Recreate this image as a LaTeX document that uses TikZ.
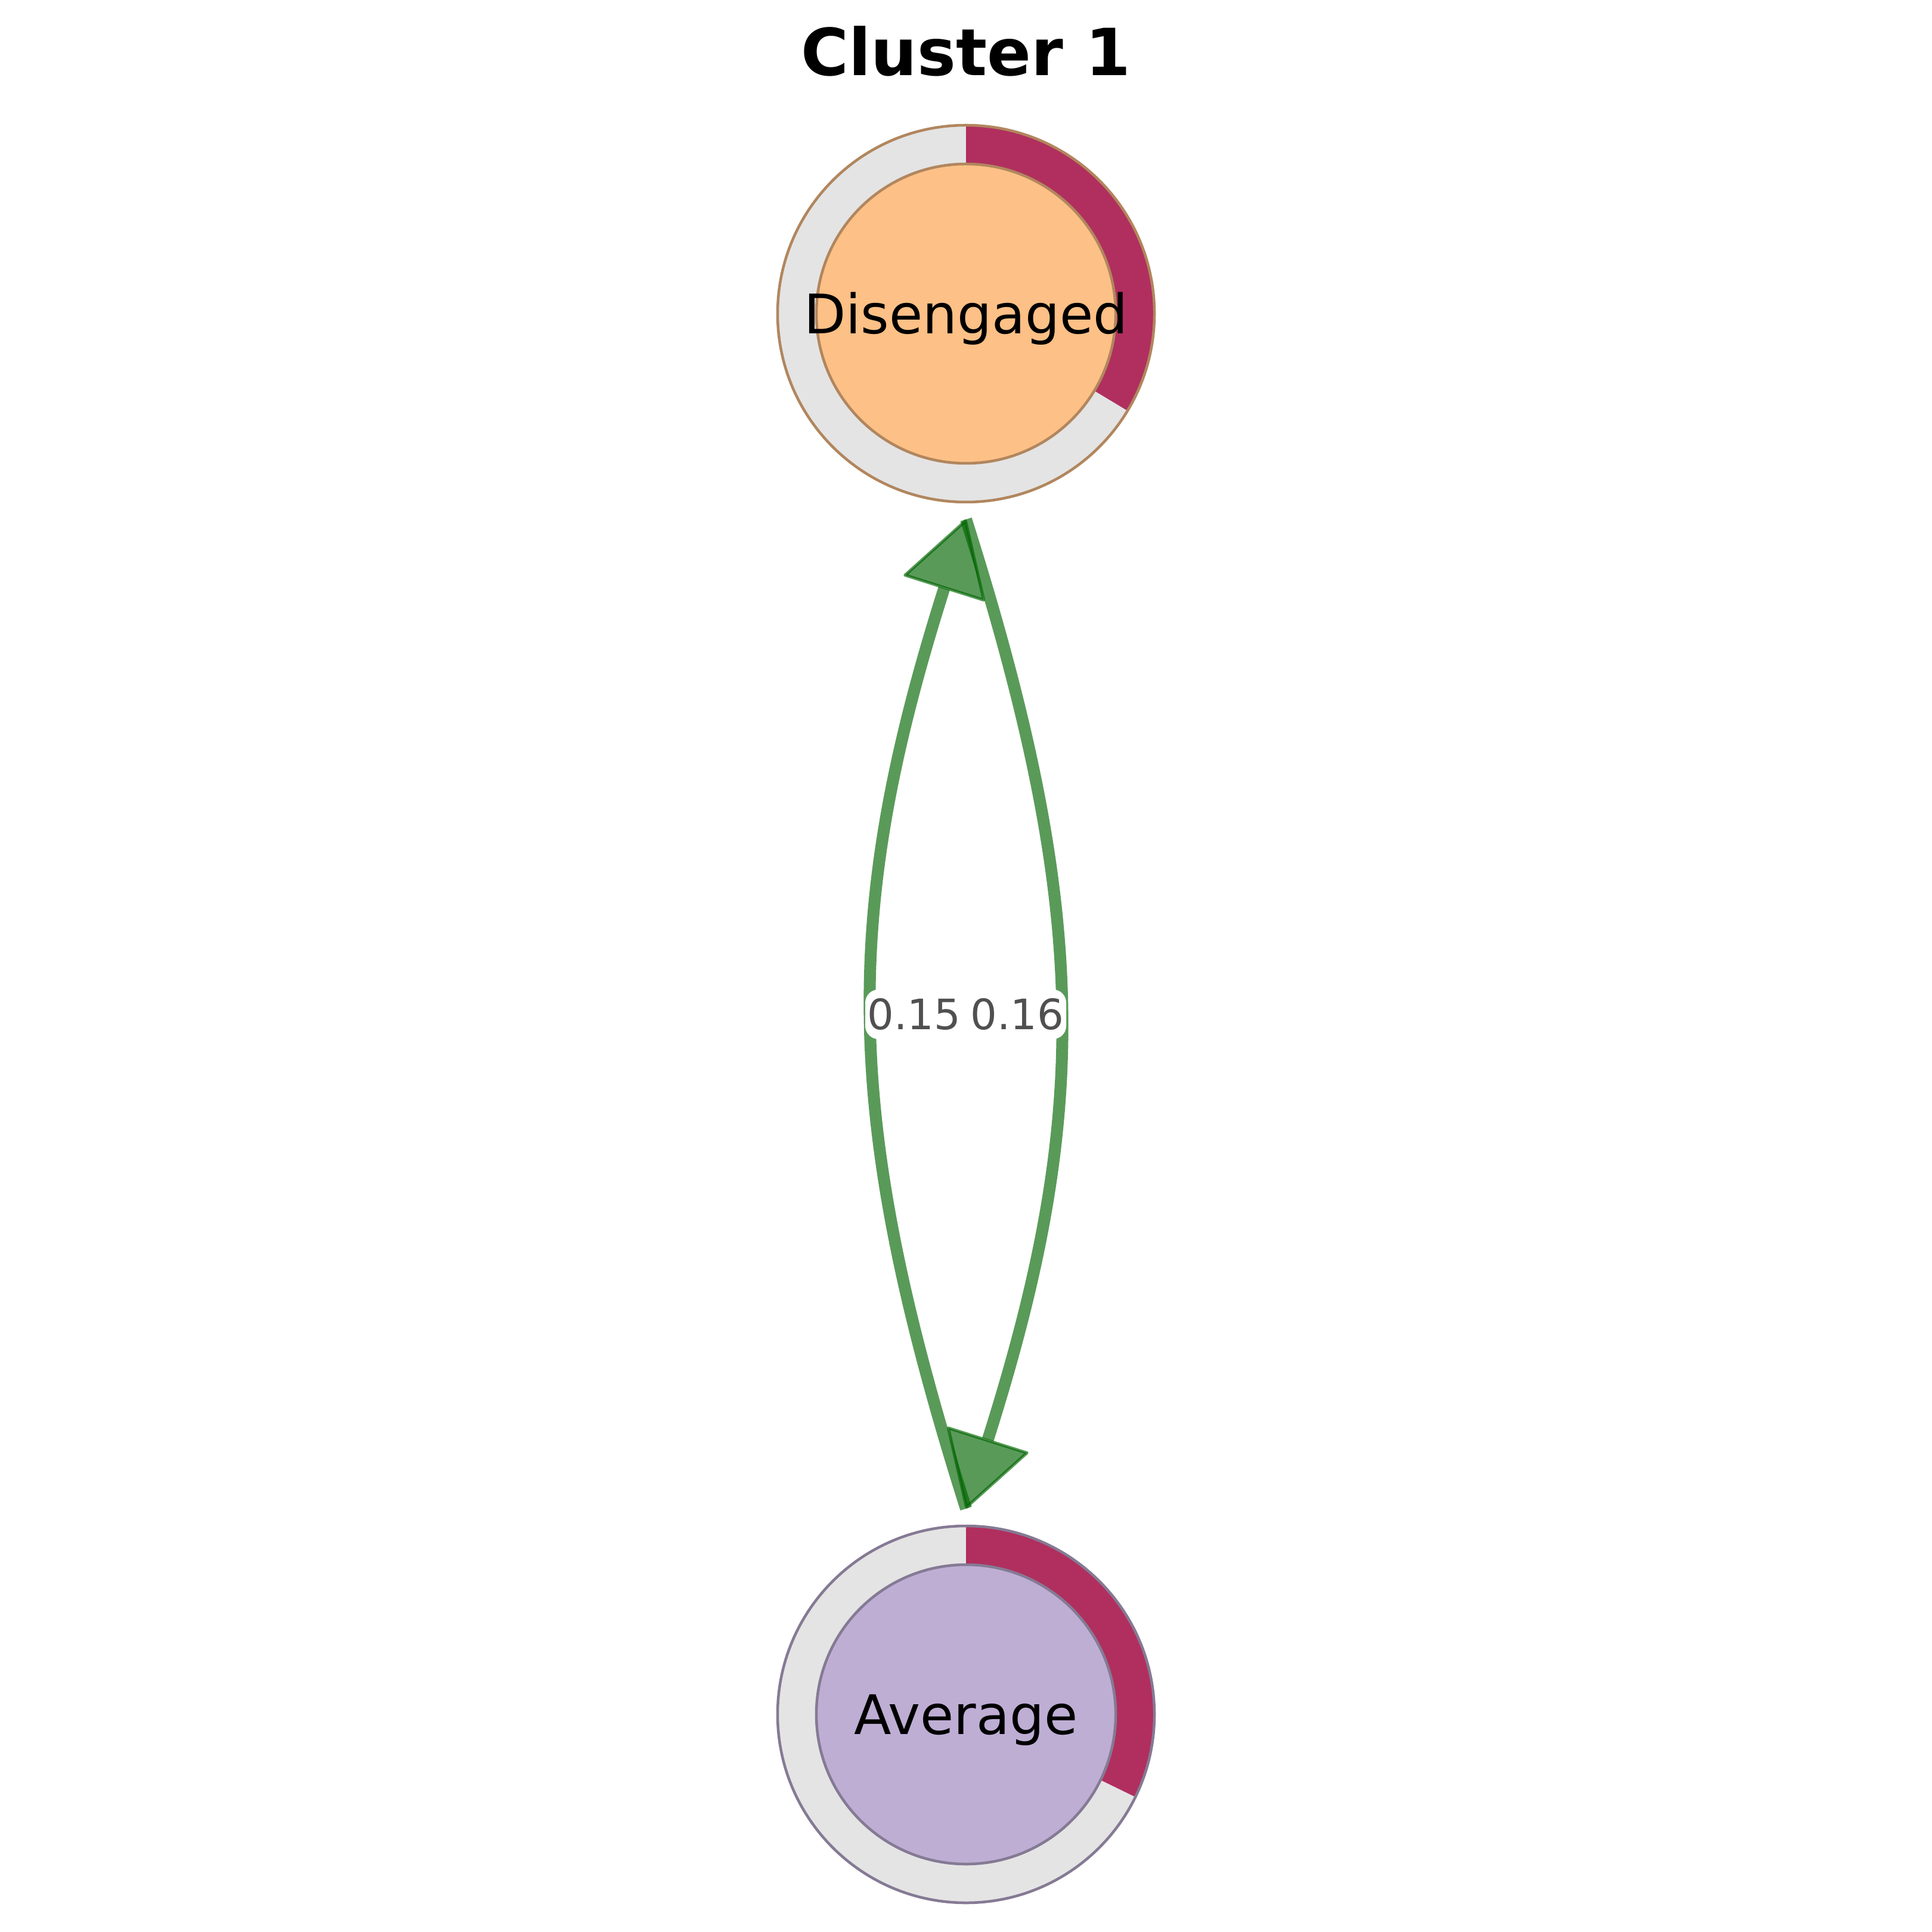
\documentclass[tikz,border=0pt]{standalone}
\usepackage{fontspec}
\setmainfont{DejaVu Sans}
\usetikzlibrary{arrows.meta}
\definecolor{ringgray}{RGB}{228,228,228}
\definecolor{ringred}{RGB}{176,47,94}
\definecolor{disfill}{RGB}{253,192,134}
\definecolor{disline}{RGB}{177,134,94}
\definecolor{avgfill}{RGB}{190,174,212}
\definecolor{avgline}{RGB}{133,122,148}
\definecolor{edgegreen}{RGB}{0,100,0}
\definecolor{labgray}{RGB}{80,80,80}
\tikzset{
  inner/.style={circle, minimum size=5.02cm, inner sep=0pt, line width=0.045cm,
     text height=0.67cm, text depth=0cm, font=\fontsize{26}{30}\selectfont},
  halo/.style={circle, minimum size=6.9cm, inner sep=0pt, outer sep=0pt},
  trans/.style={draw=edgegreen, opacity=0.65, line width=0.2cm,
     -{Triangle[length=1.25cm,width=1.46cm,line width=0.05cm,round]}},
  elabel/.style={fill=white, rounded corners=0.22cm, inner sep=0pt,
     minimum width=1.64cm, minimum height=0.83cm, text=labgray,
     font=\fontsize{20}{24}\selectfont},
}
\begin{document}
\begin{tikzpicture}
\useasboundingbox[fill=white] (0,0) rectangle (32.4,-32.4);
\coordinate (cD) at (16.2,-5.26);
\coordinate (cA) at (16.2,-28.75);
% title
\node[anchor=base, font=\fontsize{31}{36}\selectfont\bfseries] (title) at (16.2,-1.27) {Cluster 1};
% rings
\fill[ringgray] (cD) circle[radius=3.16];
\fill[ringred] (cD) -- ++(90:3.16) arc[start angle=90, end angle=-31, radius=3.16] -- cycle;
\fill[ringgray] (cA) circle[radius=3.16];
\fill[ringred] (cA) -- ++(90:3.16) arc[start angle=90, end angle=-26, radius=3.16] -- cycle;
% nodes
\node[inner, draw=disline, fill=disfill] (dis) at (cD) {\makebox[0pt]{Disengaged}};
\node[inner, draw=avgline, fill=avgfill] (avg) at (cA) {\makebox[0pt]{Average}};
\draw[disline, line width=0.045cm] (cD) circle[radius=3.16];
\draw[avgline, line width=0.045cm] (cA) circle[radius=3.16];
\node[halo] (disH) at (cD) {};
\node[halo] (avgH) at (cA) {};
% edges
\draw[trans] (avgH.north) .. controls +(-2.09,6.6) and +(-2.09,-6.6) .. (disH.south);
\draw[trans] (disH.south) .. controls +(2.09,-6.6) and +(2.09,6.6) .. (avgH.north);
% labels
\node[elabel] (l1) at (15.33,-17.01) {0.15};
\node[elabel] (l2) at (17.06,-17.01) {0.16};
\end{tikzpicture}
\end{document}
